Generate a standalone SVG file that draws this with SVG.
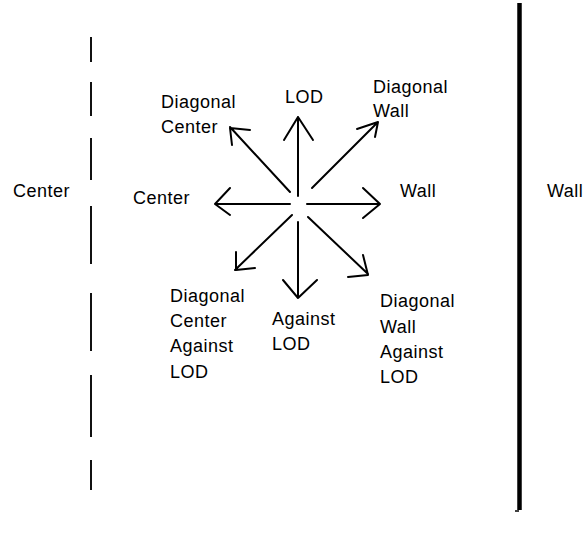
<svg xmlns="http://www.w3.org/2000/svg" width="586" height="544" viewBox="0 0 586 544">
<style>
text{font-family:"Liberation Sans",Arial,sans-serif;font-size:18px;letter-spacing:0.5px;fill:#000}
.a{stroke:#000;stroke-width:2;fill:none;stroke-linecap:round;stroke-linejoin:round}
</style>
<rect width="586" height="544" fill="#fff"/>
<g id="center-line">
<path d="M91,37V62M91,82V116M91,138V180M91,206V264M91,293V351M91,375V437M91,460V490" stroke="#111" stroke-width="2" fill="none"/>
<text x="13" y="197">Center</text>
</g>
<g id="wall-line">
<path d="M519.5,3V510" stroke="#000" stroke-width="4.5" fill="none"/>
<path d="M515,511H519" stroke="#000" stroke-width="1.5" fill="none"/>
<text x="547" y="197">Wall</text>
</g>
<g id="connectors">
<path class="a" d="M298,196V117M284,140L298,117L313,140"/>
<path class="a" d="M290,204H215M230,188L215,204L230,215"/>
<path class="a" d="M307,204H380M363,188L380,204L363,218"/>
<path class="a" d="M298,222V298M283,280L298,298L317,280"/>
<path class="a" d="M290,192L230,127M250,130L230,128L232,145"/>
<path class="a" d="M312,188L378,122M357,129L378,122L375,137"/>
<path class="a" d="M292,215L235,270M236,252L236,270L255,268"/>
<path class="a" d="M308,217L368,274M363,255L368,275L348,277"/>
</g>
<g id="label-lod"><text x="285" y="103">LOD</text></g>
<g id="label-diag-center"><text x="161" y="108">Diagonal</text><text x="161" y="133">Center</text></g>
<g id="label-diag-wall"><text x="373" y="93">Diagonal</text><text x="373" y="117">Wall</text></g>
<g id="label-center"><text x="133" y="204">Center</text></g>
<g id="label-wall"><text x="400" y="197">Wall</text></g>
<g id="label-diag-center-against"><text x="170" y="302">Diagonal</text><text x="170" y="327">Center</text><text x="170" y="352">Against</text><text x="170" y="378">LOD</text></g>
<g id="label-against"><text x="272" y="325">Against</text><text x="272" y="350">LOD</text></g>
<g id="label-diag-wall-against"><text x="380" y="307">Diagonal</text><text x="380" y="333">Wall</text><text x="380" y="358">Against</text><text x="380" y="383">LOD</text></g>
</svg>
